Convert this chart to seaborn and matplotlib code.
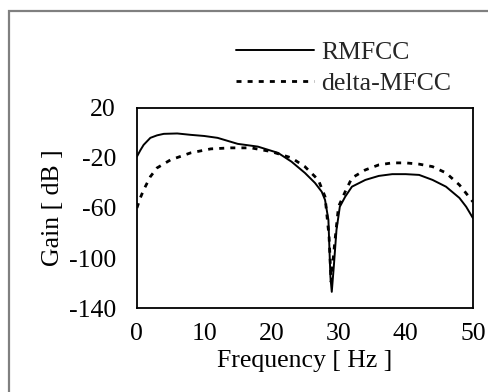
import pandas as pd
import seaborn as sns
import matplotlib.pyplot as plt
import matplotlib.patches as mpatches

# Values
rm_freq = [0, 0.5, 1, 2, 3, 4, 6, 8, 10, 12, 15, 18, 21, 23, 25, 26.5, 27.5,
           28, 28.5, 28.8, 29, 29.3, 29.7, 30.2, 31, 32, 34, 36, 38, 40, 42,
           44, 46, 48, 49, 50]
rm_gain = [-19, -14, -9.6, -4, -2, -0.8, -0.5, -1.6, -2.5, -4, -8.8, -11, -16,
           -23, -32, -40, -47, -53.6, -69.6, -115, -127, -107, -77.6, -59, -51,
           -43, -37.6, -34.4, -33, -33, -33.6, -37.6, -43, -52, -59, -68]

dm_freq = [0, 0.5, 1, 2, 3, 5, 8, 11, 14, 17, 20, 23, 25, 27, 28, 28.6, 28.9,
           29.4, 30, 31, 32, 34, 36, 38, 40, 42, 44, 46, 48, 50]
dm_gain = [-60, -52, -45.6, -35, -28, -21.6, -16, -12.8, -12, -12, -15, -20,
           -27, -37.6, -51, -83, -119, -90, -59, -47, -36, -29.6, -25.6, -24,
           -24, -25, -27, -32, -41.6, -55]

x_ticks = [0, 10, 20, 30, 40, 50]
y_ticks = [20, -20, -60, -100, -140]

sns.set_theme(style="white")
plt.rcParams['font.family'] = ['Liberation Serif', 'DejaVu Serif']
plt.rcParams['axes.unicode_minus'] = False
fs = 18.5

df = pd.concat([
    pd.DataFrame({'freq': rm_freq, 'gain': rm_gain, 'series': 'RMFCC'}),
    pd.DataFrame({'freq': dm_freq, 'gain': dm_gain, 'series': 'delta-MFCC'}),
])

fig = plt.figure(figsize=(4.89, 3.92), dpi=100)
ax = fig.add_axes([0.280, 0.214, 0.687, 0.511])

sns.lineplot(data=df[df['series'] == 'RMFCC'], x='freq', y='gain', ax=ax,
             color='black', lw=1.4, estimator=None, sort=False, label='RMFCC')
sns.lineplot(data=df[df['series'] == 'delta-MFCC'], x='freq', y='gain', ax=ax,
             color='black', lw=2.0, estimator=None, sort=False,
             dashes=False, label='delta-MFCC')
ax.lines[1].set_linestyle((0, (1.8, 2.2)))

ax.set_xlim(0, 50)
ax.set_ylim(-140, 20)
ax.set_xticks(x_ticks)
ax.set_yticks(y_ticks)
ax.tick_params(direction='in', length=6, width=1, colors='black',
               labelsize=fs, labelcolor='black')
ax.tick_params(axis='y', pad=15)
ax.tick_params(axis='x', pad=11)
for sp in ax.spines.values():
    sp.set_color('black')
    sp.set_linewidth(1.3)

ax.set_xlabel('Frequency [ Hz ]', fontsize=fs, color='black')
ax.set_ylabel('Gain [ dB ]', fontsize=fs, color='black')
ax.xaxis.set_label_coords(0.5, -0.21)
ax.yaxis.set_label_coords(-0.218, 0.5)

ax.legend(loc='upper left', frameon=False, fontsize=fs,
          handlelength=3.05, handletextpad=0.25, labelspacing=0.3,
          borderaxespad=0, borderpad=0)
leg = ax.get_legend()
leg.set_bbox_to_anchor((236 / 489, 1 - 41 / 392), transform=fig.transFigure)

# gray outer frame, clipped by the right and bottom edges
frame = mpatches.Rectangle((8.5 / 489, -0.05), 1.1, 1 - 10.5 / 392 + 0.05,
                           transform=fig.transFigure, fill=False,
                           edgecolor='#808080', lw=1.6)
fig.patches.append(frame)

plt.savefig('out.png', dpi=100)
